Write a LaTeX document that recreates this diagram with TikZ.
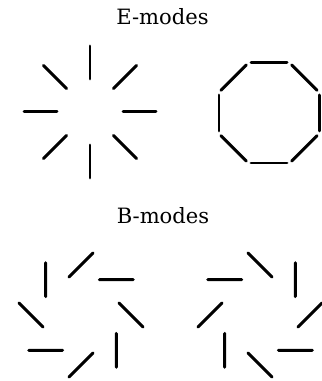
\documentclass[tikz,border=0pt]{standalone}
\usepackage{fontspec}
\setmainfont{DejaVu Serif}
\usepackage{tikz}
\usetikzlibrary{positioning}
\tikzset{
  title/.style={font=\fontsize{12}{14}\selectfont,anchor=base,inner sep=0pt},
  bar/.style={line width=1.7pt,line cap=round},
}
\begin{document}
\begin{tikzpicture}[x=0.02cm,y=0.02cm]
  \useasboundingbox (0,0) rectangle (321,381);
  \node[title] (etitle) at (162.5,356) {E-modes};
  \node[title] (btitle) at (163,157) {B-modes};

  \begin{scope}[shift={(90,269)}]
    \foreach \a in {0,45,...,315}
      \draw[bar,rotate=\a] (33,0) -- (66,0);
  \end{scope}
  \begin{scope}[shift={(269,268)}]
    \foreach \a in {0,45,...,315}
      \draw[bar,rotate=\a] (50,-18) -- (50,18);
  \end{scope}
  \begin{scope}[shift={(81,66)}]
    \foreach \a in {0,45,...,315}
      \draw[bar,rotate=\a] (50,0) ++(-45:17) -- ++(135:34);
  \end{scope}
  \begin{scope}[shift={(260,66)}]
    \foreach \a in {0,45,...,315}
      \draw[bar,rotate=\a] (50,0) ++(45:17) -- ++(225:34);
  \end{scope}
\end{tikzpicture}
\end{document}
